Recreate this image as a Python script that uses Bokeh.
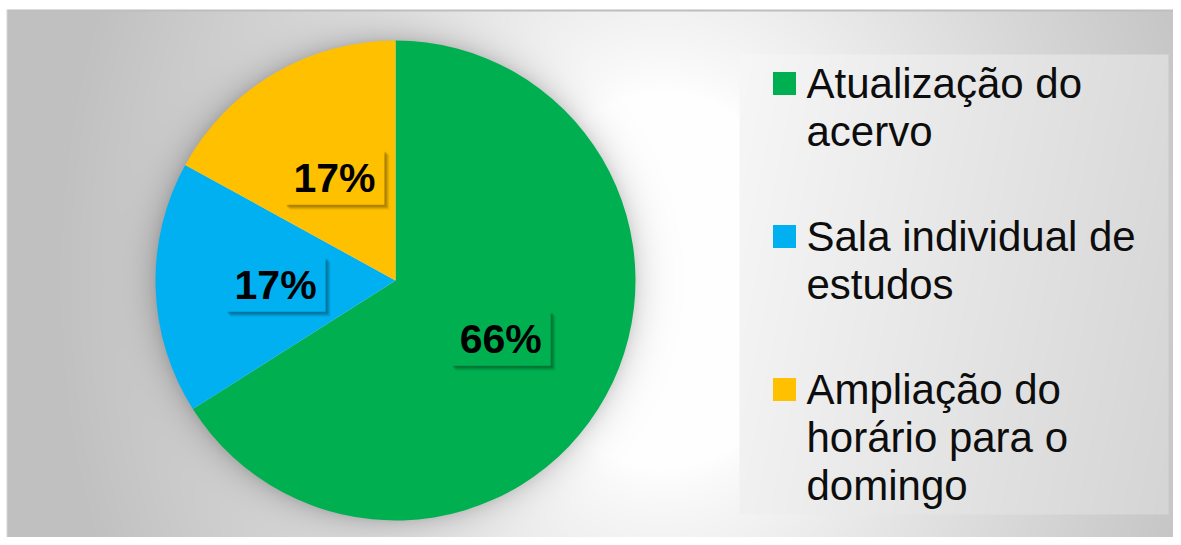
import textwrap
import numpy as np
from bokeh.plotting import figure
from bokeh.models import Range1d
from bokeh.core.properties import value
from bokeh.embed import file_html
from bokeh.resources import INLINE

# ---- data ----
categories = ["Atualização do acervo", "Sala individual de estudos",
              "Ampliação do horário para o domingo"]
values = [66, 17, 17]
colors = ["#00b050", "#00b0f0", "#ffc000"]

W, H = 1173, 537
FONT = value("Liberation Sans")

p = figure(width=W, height=H, x_range=Range1d(0, W), y_range=Range1d(0, H),
           output_backend="svg", toolbar_location=None, min_border=0,
           x_axis_type=None, y_axis_type=None, outline_line_color=None)
p.grid.visible = False
p.background_fill_color = "white"
p.border_fill_color = "white"

# reference pixel -> data coords
def dx(px):
    return px
def dy(py):
    return H - py

# ---- background (style only) ----
pie_cx_page, pie_cy_page, R = 395, 280, 240
xs = np.arange(W) + 0.5
ys = np.arange(H) + 0.5
X, Y = np.meshgrid(xs, ys)
d = np.hypot(X - 660, (Y - 280) * 0.8)
t = np.clip((d - 150) / 450, 0, 1) ** 0.8
v = 255 - 62 * t
r = np.hypot(X - pie_cx_page, Y - pie_cy_page)
shadow = np.where(r >= R - 2, 38 * np.exp(-np.clip(r - R, 0, None) / 13), 0)
v = v - shadow
# legend box
lx0, lx1, ly0, ly1 = 739, 1168, 54, 514
inleg = (X >= lx0) & (X <= lx1) & (Y >= ly0) & (Y <= ly1)
vleg = 247 - 28 * (X - lx0) / (lx1 - lx0) - 6 * (Y - ly0) / (ly1 - ly0)
v = np.where(inleg, vleg, v)
# frame borders
v = np.where(Y < 9.5, 255, v)
v = np.where(X < 6.5, 255, v)
v = np.where((Y >= 9.5) & (Y < 11.5) & (X >= 6.5), 190, v)
v = np.where((X >= 6.5) & (X < 7.5) & (Y >= 9.5), 215, v)
v = np.clip(v, 0, 255).astype(np.uint8)
img = np.empty((H, W), dtype=np.uint32)
view = img.view(dtype=np.uint8).reshape((H, W, 4))
view[..., 0] = v
view[..., 1] = v
view[..., 2] = v
view[..., 3] = 255
img = np.ascontiguousarray(img[::-1])
p.image_rgba(image=[img], x=0, y=0, dw=W, dh=H)

# ---- pie ----
vals = np.array(values, dtype=float)
frac = vals / vals.sum()
cum = np.concatenate([[0], np.cumsum(frac)])
start = np.deg2rad(90 - 360 * cum[1:])
end = np.deg2rad(90 - 360 * cum[:-1])
cx, cy = dx(pie_cx_page), dy(pie_cy_page)
p.wedge(x=cx, y=cy, radius=R, start_angle=start, end_angle=end,
        fill_color=colors, line_color=None)

# ---- data labels ----
mid = (start + end) / 2
lab_r = 120
lxs = cx + lab_r * np.cos(mid)
lys = cy + lab_r * np.sin(mid)
labels = [f"{int(round(x))}%" for x in values]
bw, bh = 100, 55
for off, a in [(5, 0.06), (4, 0.08), (3, 0.10), (2, 0.12)]:
    p.rect(x=lxs + off, y=lys - off, width=bw, height=bh,
           width_units="screen", height_units="screen",
           fill_color="black", fill_alpha=a, line_color=None)
p.rect(x=lxs, y=lys, width=bw, height=bh,
       width_units="screen", height_units="screen",
       fill_color=colors, line_color=None)
LAB_FS = 41
p.text(x=lxs, y=lys - 15 + 0.34 * LAB_FS, text=labels, text_font=FONT,
       text_font_size=f"{LAB_FS}px", text_font_style="bold",
       text_align="center", text_baseline="alphabetic", text_color="black")

# ---- legend ----
LEG_FS = 42
line_h = 48
gap = 57
base = 97  # reference y of first baseline
tx, ty, tt = [], [], []
sx, sy = [], []
for cat in categories:
    lines = textwrap.wrap(cat, width=18)
    sx.append(dx(784))
    sy.append(dy(base - 14))
    for i, ln in enumerate(lines):
        tx.append(dx(806))
        ty.append(dy(base + i * line_h) + 0.34 * LEG_FS)
        tt.append(ln)
    base += len(lines) * line_h + gap
p.scatter(x=sx, y=sy, marker="square", size=23, fill_color=colors,
          line_color=None)
p.text(x=tx, y=ty, text=tt, text_font=FONT, text_font_size=f"{LEG_FS}px",
       text_align="left", text_baseline="alphabetic", text_color="#0d0d0d")

open("out.html", "w").write(file_html(p, INLINE))
